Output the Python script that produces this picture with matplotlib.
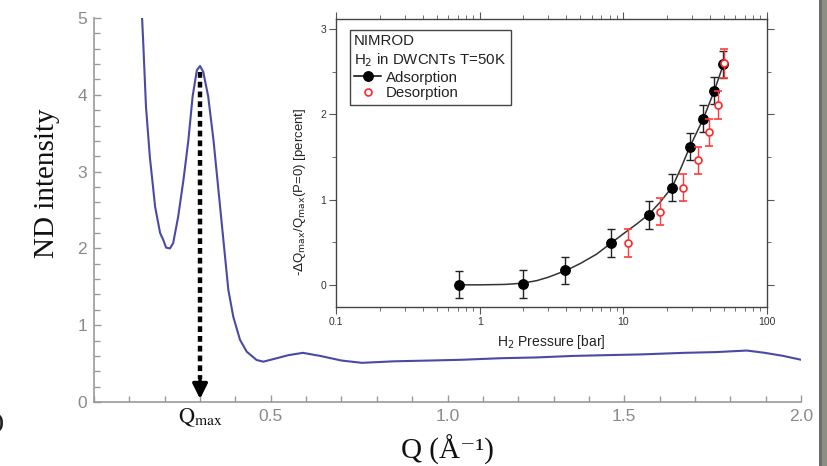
import matplotlib
matplotlib.use("Agg")
import matplotlib.pyplot as plt
from matplotlib.lines import Line2D
from matplotlib.patches import Rectangle
from matplotlib.ticker import MultipleLocator, FixedLocator, LogLocator, NullFormatter

# ---------------- data ----------------
q_values = [0.136, 0.139, 0.147, 0.158, 0.173, 0.187, 0.196, 0.204, 0.215, 0.224,
            0.238, 0.253, 0.267, 0.279, 0.291, 0.300, 0.309, 0.323, 0.338, 0.352,
            0.366, 0.380, 0.394, 0.413, 0.432, 0.460, 0.479, 0.517, 0.550, 0.591,
            0.640, 0.700, 0.758, 0.850, 0.950, 1.041, 1.150, 1.250, 1.355, 1.450,
            1.550, 1.669, 1.760, 1.847, 1.898, 1.950, 2.000]
nd_intensity = [5.00, 4.71, 3.85, 3.19, 2.54, 2.20, 2.11, 2.01, 2.00, 2.07,
                2.41, 2.89, 3.41, 3.98, 4.32, 4.375, 4.30, 3.98, 3.41, 2.76,
                2.11, 1.46, 1.11, 0.81, 0.655, 0.547, 0.525, 0.57, 0.61, 0.64,
                0.60, 0.54, 0.51, 0.53, 0.54, 0.55, 0.57, 0.58, 0.60, 0.61,
                0.62, 0.64, 0.65, 0.67, 0.64, 0.60, 0.55]
q_max = 0.30
q_max_peak = 4.30

x_major_ticks = [0.5, 1.0, 1.5, 2.0]
x_major_labels = ["0.5", "1.0", "1.5", "2.0"]
y_major_ticks = [0, 1, 2, 3, 4, 5]

ads_pressure = [0.72, 2.0, 3.94, 8.2, 15.1, 21.9, 29.0, 36.0, 43.0, 49.7]
ads_shift = [0.00, 0.01, 0.17, 0.49, 0.82, 1.14, 1.62, 1.95, 2.28, 2.59]
ads_err = [0.16, 0.16, 0.16, 0.16, 0.16, 0.16, 0.16, 0.16, 0.16, 0.16]

des_pressure = [10.7, 17.9, 26.0, 33.2, 39.4, 45.9, 50.2]
des_shift = [0.49, 0.86, 1.14, 1.46, 1.79, 2.11, 2.60]
des_err = [0.16, 0.16, 0.16, 0.16, 0.16, 0.16, 0.17]

fit_pressure = [0.72, 1.0, 1.5, 2.0, 2.5, 3.0, 4.0, 5.0, 6.5, 8.2,
                10.0, 12.5, 15.1, 18.0, 21.9, 25.0, 29.0, 36.0, 43.0, 50.0]
fit_shift = [0.00, 0.00, 0.005, 0.02, 0.05, 0.09, 0.17, 0.25, 0.36, 0.49,
             0.60, 0.72, 0.83, 0.97, 1.15, 1.36, 1.62, 1.95, 2.28, 2.60]

inset_x_ticks = [0.1, 1, 10, 100]
inset_x_labels = ["0.1", "1", "10", "100"]
inset_y_ticks = [0, 1, 2, 3]

# ---------------- figure ----------------
fig = plt.figure(figsize=(8.27, 4.66), dpi=100)
fig.patch.set_facecolor("white")

gray = "#9a9a9a"
ax = fig.add_axes([94 / 827, 1 - 402 / 466, 707 / 827, 384 / 466])
ax.plot(q_values, nd_intensity, color="#4a4aa6", lw=1.5, zorder=3)
ax.set_xlim(0, 2.0)
ax.set_ylim(0, 5)
for s in ["top", "right"]:
    ax.spines[s].set_visible(False)
for s in ["left", "bottom"]:
    ax.spines[s].set_color(gray)
    ax.spines[s].set_linewidth(1.2)
ax.xaxis.set_major_locator(FixedLocator(x_major_ticks))
ax.set_xticklabels(x_major_labels)
ax.xaxis.set_minor_locator(MultipleLocator(0.1))
ax.yaxis.set_major_locator(FixedLocator(y_major_ticks))
ax.yaxis.set_minor_locator(MultipleLocator(0.2))
ax.tick_params(which="both", direction="in", color=gray, width=1.0)
ax.tick_params(which="major", length=5, labelsize=12.5, labelcolor="#8a8a8a", pad=5)
ax.tick_params(which="minor", length=4.5)
for lab in ax.get_xticklabels() + ax.get_yticklabels():
    lab.set_family(["Liberation Sans", "DejaVu Sans"])

ax.set_ylabel("ND intensity", family="Liberation Serif", fontsize=21, color="#111111",
              va="center")
ax.yaxis.set_label_coords(-0.066, 0.57)
ax.set_xlabel("Q (Å⁻¹)", family=["Liberation Serif", "DejaVu Serif"], fontsize=21,
              color="#111111", va="center")
ax.xaxis.set_label_coords(0.5, -0.125)

# Qmax dashed arrow
ax.plot([q_max, q_max], [q_max_peak, 0.3], color="black", lw=3.2, dashes=(1.3, 0.9), zorder=4)
ax.annotate("", xy=(q_max, 0.04), xytext=(q_max, 0.32),
            arrowprops=dict(arrowstyle="-|>,head_length=0.9,head_width=0.45",
                            color="black", lw=2.5, shrinkA=0, shrinkB=0), zorder=5)
ax.text(q_max, -0.2, r"$\mathrm{Q}_{\mathrm{max}}$", ha="center", va="center",
        fontsize=16, math_fontfamily="stix", color="#111111")

# ---------------- inset ----------------
ins = fig.add_axes([336.3 / 827, 1 - 307 / 466, 430.7 / 827, 288 / 466], zorder=10)
ins.set_facecolor("white")
ins.set_xscale("log")
ins.set_xlim(0.1, 100)
ins.set_ylim(-0.26, 3.12)

ins.plot(fit_pressure, fit_shift, color="#333333", lw=1.1, zorder=3)
ins.errorbar(ads_pressure, ads_shift, yerr=ads_err, fmt="o", color="black", ms=6.8,
             ecolor="#222222", elinewidth=1.0, capsize=3, capthick=1.0, zorder=4)
ins.errorbar(des_pressure, des_shift, yerr=des_err, fmt="o", mfc="white", mec="#ff2a2a",
             ms=5, mew=1.2, ecolor="#ff3b3b", elinewidth=1.0, capsize=3, capthick=1.0,
             zorder=5)

for s in ins.spines.values():
    s.set_color("#444444")
    s.set_linewidth(1.0)
ins.xaxis.set_major_locator(FixedLocator(inset_x_ticks))
ins.set_xticklabels(inset_x_labels)
ins.xaxis.set_minor_locator(LogLocator(base=10, subs=range(2, 10)))
ins.xaxis.set_minor_formatter(NullFormatter())
ins.yaxis.set_major_locator(FixedLocator(inset_y_ticks))
ins.yaxis.set_minor_locator(MultipleLocator(0.5))
ins.tick_params(which="both", direction="out", top=True, right=True, color="#555555")
ins.tick_params(which="major", length=5, labelsize=7.5, labelcolor="#333333", pad=2)
ins.tick_params(which="minor", length=3)
for lab in ins.get_xticklabels() + ins.get_yticklabels():
    lab.set_family(["Liberation Sans", "DejaVu Sans"])

ins.set_xlabel(r"H$_2$ Pressure [bar]", family=["Liberation Sans", "DejaVu Sans"],
               fontsize=10, color="#222222", math_fontfamily="dejavusans", va="center")
ins.xaxis.set_label_coords(0.5, -0.122)
ins.set_ylabel(r"-$\Delta$Q$_{\mathrm{max}}$/Q$_{\mathrm{max}}$(P=0) [percent]",
               family=["Liberation Sans", "DejaVu Sans"], fontsize=9.5, color="#222222",
               math_fontfamily="dejavusans", va="center")
ins.yaxis.set_label_coords(-0.084, 0.40)

handles = [Line2D([], [], color="black", marker="o", ms=6.8, lw=1.1),
           Line2D([], [], ls="none", marker="o", mfc="white", mec="#ff2a2a", ms=5, mew=1.2)]
leg = ins.legend(handles, ["Adsorption", "Desorption"],
                 title="NIMROD\n" + r"H$_2$ in DWCNTs T=50K",
                 loc="upper left", bbox_to_anchor=(0.031, 0.962), frameon=True,
                 fancybox=False, framealpha=1, edgecolor="#444444",
                 prop={"family": ["Liberation Sans", "DejaVu Sans"], "size": 10.8},
                 title_fontproperties={"family": ["Liberation Sans", "DejaVu Sans"], "size": 10.8},
                 alignment="left", handlelength=1.8, handletextpad=0.3,
                 labelspacing=0.12, borderpad=0.3, borderaxespad=0)
leg.get_frame().set_linewidth(1.0)
leg.get_title().set_color("#222222")
for t in leg.get_texts():
    t.set_color("#222222")

# ---------------- page decorations ----------------
fig.patches.append(Rectangle((819 / 827, 0), 2.5 / 827, 1, transform=fig.transFigure,
                             facecolor="#6f6f6a", edgecolor="none"))
fig.patches.append(Rectangle((821.5 / 827, 0), 6 / 827, 1, transform=fig.transFigure,
                             facecolor="#8e8e89", edgecolor="none"))
fig.text(-0.004, 1 - 423 / 466, ")", family="Liberation Serif", fontsize=15,
         fontweight="bold", color="#222222", ha="left", va="center")

fig.savefig("out.png", dpi=100)
